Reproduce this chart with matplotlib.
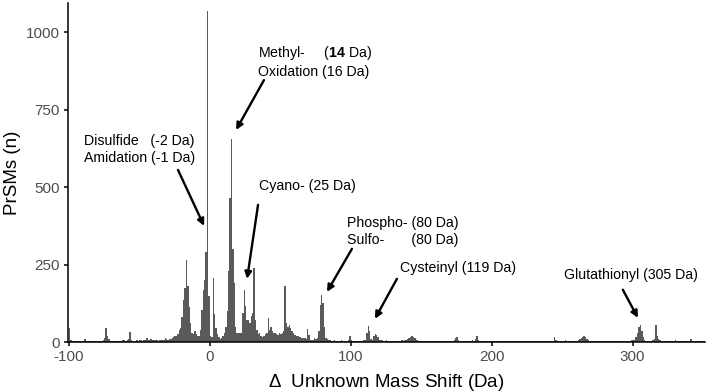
import numpy as np
import matplotlib
matplotlib.use("Agg")
import matplotlib.pyplot as plt

plt.rcParams['font.family'] = ['Liberation Sans', 'DejaVu Sans']
plt.rcParams['mathtext.fontset'] = 'custom'
plt.rcParams['mathtext.rm'] = 'Liberation Sans'
plt.rcParams['mathtext.it'] = 'Liberation Sans:italic'
plt.rcParams['mathtext.bf'] = 'Liberation Sans:bold'
plt.rcParams['axes.unicode_minus'] = False

# PrSM counts per 1 Da mass-shift bin (bins start at -100 Da)
counts_m100_m51 = [46, 6, 2, 2, 3, 2, 2, 2, 3, 3,
                   4, 10, 4, 2, 2, 2, 2, 2, 2, 2,
                   2, 3, 3, 4, 5, 12, 46, 20, 10, 4,
                   3, 2, 2, 3, 2, 3, 3, 4, 8, 5,
                   4, 6, 10, 33, 8, 4, 3, 4, 5, 4]
counts_m50_m1 = [5, 6, 4, 5, 6, 12, 8, 5, 10, 6,
                 5, 6, 5, 4, 6, 8, 5, 7, 12, 10,
                 8, 10, 10, 12, 15, 18, 20, 25, 40, 45,
                 80, 136, 175, 266, 180, 114, 62, 30, 25, 35,
                 25, 20, 20, 40, 103, 168, 200, 292, 1070, 150]
counts_0_49 = [20, 15, 207, 90, 45, 25, 15, 10, 12, 20,
               30, 50, 100, 230, 464, 655, 300, 190, 50, 30,
               28, 28, 30, 93, 168, 115, 72, 72, 60, 83,
               93, 240, 72, 40, 25, 30, 20, 15, 20, 25,
               30, 77, 40, 50, 35, 28, 30, 25, 22, 28]
counts_50_99 = [25, 30, 35, 180, 62, 50, 55, 45, 34, 30,
                22, 20, 18, 15, 15, 12, 14, 12, 10, 42,
                22, 8, 6, 5, 12, 10, 12, 34, 120, 153,
                127, 50, 12, 10, 6, 5, 4, 4, 5, 4,
                4, 3, 4, 5, 3, 4, 3, 4, 6, 20]
counts_100_149 = [8, 4, 3, 3, 4, 3, 3, 4, 3, 5,
                  6, 28, 52, 34, 10, 8, 18, 25, 22, 15,
                  8, 5, 6, 4, 4, 6, 3, 4, 3, 3,
                  3, 4, 3, 3, 4, 3, 5, 4, 6, 8,
                  10, 13, 16, 18, 16, 12, 8, 5, 4, 3]
counts_150_199 = [3, 3, 4, 3, 3, 3, 2, 3, 4, 3,
                  3, 3, 2, 3, 3, 2, 3, 4, 3, 2,
                  3, 3, 4, 8, 12, 17, 6, 3, 3, 3,
                  3, 3, 4, 3, 3, 3, 5, 4, 10, 20,
                  6, 3, 3, 2, 3, 3, 2, 3, 3, 3]
counts_200_249 = [3, 2, 3, 2, 3, 3, 4, 3, 2, 3,
                  3, 2, 3, 3, 3, 2, 3, 3, 2, 3,
                  3, 3, 2, 3, 3, 4, 3, 2, 3, 3,
                  2, 3, 3, 3, 2, 3, 3, 3, 2, 3,
                  3, 3, 3, 4, 15, 5, 3, 3, 2, 3]
counts_250_299 = [3, 3, 7, 3, 2, 3, 3, 2, 3, 3,
                  4, 6, 9, 13, 17, 18, 15, 10, 6, 4,
                  3, 3, 3, 2, 3, 3, 2, 3, 3, 2,
                  3, 3, 2, 3, 3, 3, 2, 3, 3, 3,
                  3, 3, 2, 3, 3, 3, 3, 4, 3, 5]
counts_300_350 = [6, 8, 15, 30, 48, 55, 35, 15, 8, 4,
                  3, 3, 3, 4, 6, 10, 55, 18, 10, 6,
                  4, 3, 3, 3, 2, 3, 3, 3, 3, 3,
                  8, 3, 3, 2, 3, 3, 3, 3, 3, 3,
                  4, 10, 3, 3, 2, 3, 3, 2, 3, 3, 3]
first_bin = -100

x_ticks = [-100, 0, 100, 200, 300]
y_ticks = [0, 250, 500, 750, 1000]

# annotation labels: (text, text x, text y, arrow tail, arrow head)
labels = [
    ("Disulfide   (-2 Da)\nAmidation (-1 Da)", -89.1, 622, (-22.5, 556), (-4.0, 375)),
    ("Methyl-     ($\\mathbf{14}$ Da)\nOxidation (16 Da)", 34.3, 907, (38.5, 846), (18.7, 685)),
    ("Cyano- (25 Da)", 35.0, 504, (34.3, 443), (26.5, 204)),
    ("Phospho- (80 Da)\nSulfo-       (80 Da)", 97.4, 357, (100.9, 301), (83.2, 162)),
    ("Cysteinyl (119 Da)", 134.9, 240, (132.8, 204), (117.2, 75)),
    ("Glutathionyl (305 Da)", 251.3, 217, (293.0, 169), (303.7, 78)),
]

counts = np.array(counts_m100_m51 + counts_m50_m1 + counts_0_49 + counts_50_99
                  + counts_100_149 + counts_150_199 + counts_200_249
                  + counts_250_299 + counts_300_350, dtype=float)
edges = np.arange(first_bin, first_bin + len(counts) + 1)

W, H = 706, 392
fig = plt.figure(figsize=(W / 100, H / 100), dpi=100)
ax = fig.add_axes([68 / W, 1 - 342 / H, (705 - 68) / W, (342 - 3) / H])

ax.stairs(counts, edges, fill=True, color='#5a5a5a', linewidth=0)

ax.set_xlim(-100.5, 351.3)
ax.set_ylim(0, 1095)
ax.set_xticks(x_ticks)
ax.set_yticks(y_ticks)

for s in ['top', 'right']:
    ax.spines[s].set_visible(False)
for s in ['left', 'bottom']:
    ax.spines[s].set_linewidth(1.1)
    ax.spines[s].set_color('black')
ax.tick_params(axis='both', length=3, width=1.1, color='black',
               labelsize=11, labelcolor='#4d4d4d', pad=3)

ax.set_xlabel("$\\mathit{Δ}$  Unknown Mass Shift (Da)", fontsize=13.5, color='black')
ax.set_ylabel("PrSMs (n)", fontsize=13.5, color='black')
ax.xaxis.set_label_coords(0.5, -0.088)
ax.yaxis.set_label_coords(-0.073, 0.5)

for text, tx, ty, tail, head in labels:
    ax.text(tx, ty, text, ha='left', va='center', fontsize=10.2,
            linespacing=1.25, color='black')
    ax.annotate('', xy=head, xytext=tail,
                arrowprops=dict(arrowstyle='-|>', color='black', lw=1.7,
                                mutation_scale=10, shrinkA=0, shrinkB=0))

fig.savefig('out.png', dpi=100)
